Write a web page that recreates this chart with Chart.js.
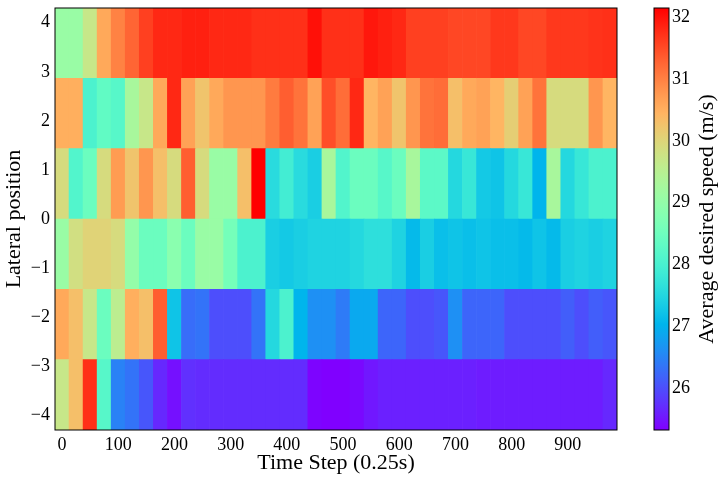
<!DOCTYPE html>
<html lang="en">
<head>
    <meta charset="UTF-8">
    <title>Average desired speed heatmap</title>
    <script src="https://cdn.jsdelivr.net/npm/chart.js"></script>
    <style>
        body {
            margin: 0;
            background: #ffffff;
        }
        #wrap {
            position: relative;
            width: 727px;
            height: 481px;
        }
        #heatmap {
            position: absolute;
            left: 0;
            top: 0;
        }
        #colorbar {
            position: absolute;
            left: 640px;
            top: 0;
        }
    </style>
</head>
<body>
<div id="wrap">
    <canvas id="heatmap" width="640" height="481"></canvas>
    <canvas id="colorbar" width="87" height="481"></canvas>
</div>

<script>
    // time step of each column (cell centres)
    const timeSteps = [0, 25, 50, 75, 100, 125, 150, 175, 200, 225,
                       250, 275, 300, 325, 350, 375, 400, 425, 450, 475,
                       500, 525, 550, 575, 600, 625, 650, 675, 700, 725,
                       750, 775, 800, 825, 850, 875, 900, 925, 950, 975];

    // lateral bin edges, bottom to top
    const laneEdges = [-4.3, -2.867, -1.433, 0, 1.433, 2.867, 4.3];

    // average desired speed (m/s) per lane, bottom lane first
    const speedLane1 = [29.69, 30.31, 31.74, 28.19, 26.48, 26.34, 26.07, 25.66, 25.46, 25.73,
                        25.70, 25.70, 25.70, 25.70, 25.70, 25.70, 25.70, 25.70, 25.35, 25.32,
                        25.32, 25.39, 25.52, 25.59, 25.59, 25.59, 25.59, 25.59, 25.59, 25.59,
                        25.56, 25.56, 25.56, 25.56, 25.56, 25.56, 25.56, 25.56, 25.56, 25.66];
    const speedLane2 = [30.58, 30.31, 29.69, 28.46, 29.55, 30.51, 30.31, 31.33, 27.23, 26.28,
                        26.34, 26.00, 26.00, 26.00, 26.34, 27.51, 28.05, 27.03, 26.62, 26.62,
                        26.41, 26.89, 26.89, 26.21, 26.21, 26.00, 26.00, 26.07, 26.62, 26.21,
                        26.21, 26.21, 26.00, 26.00, 26.00, 26.00, 26.14, 26.00, 26.14, 26.07];
    const speedLane3 = [29.08, 29.83, 30.03, 30.03, 29.90, 29.01, 28.46, 28.46, 28.87, 28.46,
                        29.08, 29.08, 28.60, 28.05, 28.05, 27.37, 27.30, 27.37, 27.44, 27.44,
                        27.44, 27.51, 27.64, 27.64, 27.44, 27.10, 27.37, 27.16, 27.23, 27.16,
                        27.23, 27.16, 27.16, 27.10, 27.23, 27.10, 27.37, 27.44, 27.37, 27.44];
    const speedLane4 = [29.90, 28.12, 28.46, 29.90, 30.72, 30.24, 30.78, 30.31, 29.90, 31.33,
                        29.90, 29.08, 29.08, 30.31, 32.15, 27.57, 27.92, 27.57, 27.37, 29.28,
                        28.12, 28.46, 28.46, 28.19, 28.46, 29.28, 28.26, 28.26, 27.51, 27.78,
                        27.30, 27.23, 27.51, 27.78, 27.03, 29.28, 27.51, 27.78, 28.05, 28.05];
    const speedLane5 = [30.51, 30.51, 28.05, 28.33, 28.19, 29.28, 29.69, 30.58, 31.81, 30.65,
                        30.24, 30.58, 30.78, 30.78, 30.78, 31.06, 31.33, 31.13, 30.65, 31.47,
                        31.19, 31.81, 30.44, 30.65, 30.24, 30.78, 31.13, 31.19, 30.31, 30.58,
                        30.65, 30.44, 30.10, 30.65, 31.13, 29.90, 29.90, 29.90, 30.78, 30.44];
    const speedLane6 = [29.08, 29.08, 29.69, 30.58, 30.99, 31.26, 31.60, 31.81, 31.81, 31.88,
                        31.88, 31.81, 31.81, 31.81, 31.74, 31.74, 31.74, 31.74, 32.01, 31.74,
                        31.74, 31.74, 31.95, 31.88, 31.81, 31.60, 31.60, 31.60, 31.54, 31.54,
                        31.54, 31.67, 31.67, 31.54, 31.54, 31.67, 31.67, 31.67, 31.71, 31.74];

    // tick labels
    const xTickValues = [0, 100, 200, 300, 400, 500, 600, 700, 800, 900];
    const yTickValues = [-4, -3, -2, -1, 0, 1, 2, 3, 4];
    const cbarTickValues = [26, 27, 28, 29, 30, 31, 32];

    const lanes = [speedLane1, speedLane2, speedLane3, speedLane4, speedLane5, speedLane6];
    const allSpeeds = lanes.flat();
    const vmin = Math.min(...allSpeeds);
    const vmax = Math.max(...allSpeeds);

    const serif = 'Liberation Serif';

    // matplotlib "rainbow" colormap
    function rainbow(t) {
        t = Math.max(0, Math.min(1, t));
        const r = Math.min(1, Math.abs(2 * t - 0.5));
        const g = Math.sin(Math.PI * t);
        const b = Math.cos(Math.PI * t / 2);
        return `rgb(${Math.round(r * 255)}, ${Math.round(g * 255)}, ${Math.round(b * 255)})`;
    }

    function speedColor(v) {
        return rainbow((v - vmin) / (vmax - vmin));
    }

    function minusSign(value) {
        return String(value).replace('-', '\u2212');
    }

    // no extra room for the end labels, the plot box is fixed
    function noPadding(scale) {
        scale.paddingTop = 0;
        scale.paddingBottom = 0;
        scale.paddingLeft = 0;
        scale.paddingRight = 0;
    }

    // black frame round the plotting area
    const framePlugin = {
        id: 'frame',
        afterDatasetsDraw(chart) {
            const a = chart.chartArea;
            const ctx = chart.ctx;
            ctx.save();
            ctx.strokeStyle = '#000000';
            ctx.lineWidth = 1;
            ctx.strokeRect(a.left, a.top, a.right - a.left, a.bottom - a.top);
            ctx.restore();
        }
    };

    // one dataset per lane, each cell a floating bar
    const datasets = lanes.map((speeds, r) => ({
        label: 'lane ' + (r + 1),
        data: timeSteps.map(t => ({ x: t, y: [laneEdges[r], laneEdges[r + 1]] })),
        backgroundColor: speeds.map(speedColor),
        borderWidth: 0,
        grouped: false,
        barPercentage: 1,
        categoryPercentage: 1
    }));

    new Chart(document.getElementById('heatmap'), {
        type: 'bar',
        data: { datasets: datasets },
        options: {
            responsive: false,
            animation: false,
            layout: { padding: { top: 8, right: 23, left: 0, bottom: 0 } },
            plugins: {
                legend: { display: false },
                tooltip: { enabled: false }
            },
            scales: {
                x: {
                    type: 'linear',
                    offset: false,
                    min: timeSteps[0] - 12.5,
                    max: timeSteps[timeSteps.length - 1] + 12.5,
                    grid: { display: false, drawTicks: false },
                    border: { display: false },
                    ticks: {
                        autoSkip: false,
                        maxRotation: 0,
                        padding: 4,
                        color: '#000000',
                        font: { family: serif, size: 18 }
                    },
                    title: {
                        display: true,
                        text: 'Time Step (0.25s)',
                        color: '#000000',
                        padding: { top: 0, bottom: 5 },
                        font: { family: serif, size: 22 }
                    },
                    afterBuildTicks(scale) { scale.ticks = xTickValues.map(v => ({ value: v })); },
                    afterFit(scale) { scale.height = 51; noPadding(scale); }
                },
                y: {
                    type: 'linear',
                    min: laneEdges[0],
                    max: laneEdges[laneEdges.length - 1],
                    grid: { display: false, drawTicks: false },
                    border: { display: false },
                    ticks: {
                        padding: 5,
                        color: '#000000',
                        font: { family: serif, size: 18 },
                        callback: v => minusSign(v)
                    },
                    title: {
                        display: true,
                        text: 'Lateral position',
                        color: '#000000',
                        padding: { top: 1, bottom: 0 },
                        font: { family: serif, size: 22 }
                    },
                    afterBuildTicks(scale) { scale.ticks = yTickValues.map(v => ({ value: v })); },
                    afterFit(scale) { scale.width = 55; noPadding(scale); }
                }
            }
        },
        plugins: [framePlugin]
    });

    // colour bar: one floating bar from vmin to vmax filled with the colormap
    function cbarGradient(context) {
        const chart = context.chart;
        const a = chart.chartArea;
        if (!a) return null;
        const g = chart.ctx.createLinearGradient(0, a.bottom, 0, a.top);
        for (let i = 0; i <= 32; i++) {
            g.addColorStop(i / 32, rainbow(i / 32));
        }
        return g;
    }

    const cbarLabelPlugin = {
        id: 'cbarLabel',
        afterDraw(chart) {
            const a = chart.chartArea;
            const ctx = chart.ctx;
            ctx.save();
            ctx.translate(67, (a.top + a.bottom) / 2);
            ctx.rotate(-Math.PI / 2);
            ctx.fillStyle = '#000000';
            ctx.font = '22px "' + serif + '"';
            ctx.textAlign = 'center';
            ctx.textBaseline = 'middle';
            ctx.fillText('Average desired speed (m/s)', 0, 0);
            ctx.restore();
        }
    };

    new Chart(document.getElementById('colorbar'), {
        type: 'bar',
        data: {
            labels: ['speed'],
            datasets: [{
                data: [[vmin, vmax]],
                backgroundColor: cbarGradient,
                borderWidth: 0,
                barPercentage: 1,
                categoryPercentage: 1
            }]
        },
        options: {
            responsive: false,
            animation: false,
            layout: { padding: { top: 8, left: 14, right: 0, bottom: 51 } },
            plugins: {
                legend: { display: false },
                tooltip: { enabled: false }
            },
            scales: {
                x: { display: false },
                y: {
                    position: 'right',
                    min: vmin,
                    max: vmax,
                    grid: { display: false, drawTicks: false },
                    border: { display: false },
                    ticks: {
                        padding: 3,
                        color: '#000000',
                        font: { family: serif, size: 18 }
                    },
                    afterBuildTicks(scale) { scale.ticks = cbarTickValues.map(v => ({ value: v })); },
                    afterFit(scale) { scale.width = 58; noPadding(scale); }
                }
            }
        },
        plugins: [framePlugin, cbarLabelPlugin]
    });
</script>
</body>
</html>
